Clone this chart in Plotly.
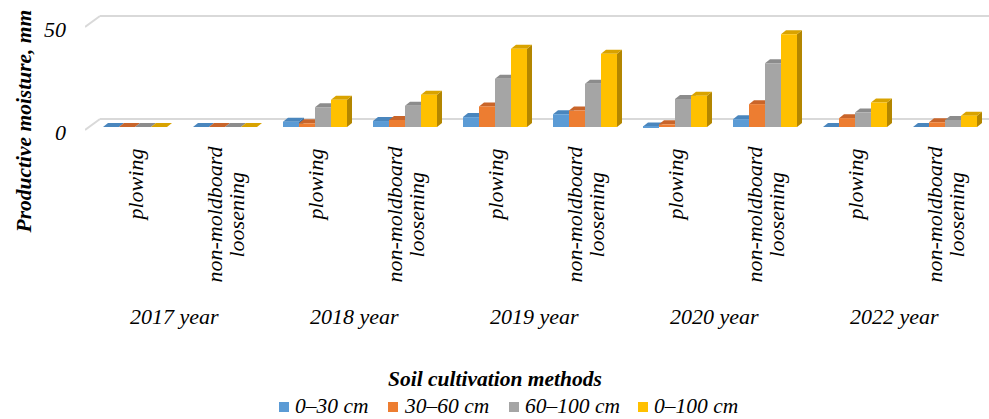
import plotly.graph_objects as go

# ---- data -------------------------------------------------------------
years = ["2017 year", "2018 year", "2019 year", "2020 year", "2022 year"]
methods = ["plowing", "non-moldboard|loosening"]
layers = ["0–30 cm", "30–60 cm", "60–100 cm", "0–100 cm"]

moist_0_30 = [0, 0, 2.6, 2.9, 4.8, 6.2, 0.3, 3.8, 0, 0]
moist_30_60 = [0, 0, 1.8, 3.4, 10.0, 8.0, 1.3, 11.1, 4.3, 2.3]
moist_60_100 = [0, 0, 9.6, 10.3, 23.4, 21.0, 13.6, 30.9, 7.0, 3.4]
moist_0_100 = [0, 0, 13.2, 15.7, 38.0, 35.6, 15.2, 45.0, 11.9, 5.5]

y_ticks = [0, 50]

# ---- styling -------------------------------------------------------------
front_colors = ["#5B9BD5", "#ED7D31", "#A5A5A5", "#FFC000"]
top_colors = ["#4A86BD", "#C9652A", "#8C8C8C", "#D9A300"]
side_colors = ["#3A6F9E", "#AE5520", "#7A7A7A", "#B38600"]
FONT = "Liberation Serif, Times New Roman, serif"
GRID = "#D9D9D9"

W, H = 989, 419
M_L, M_R, M_T, M_B = 85, 0, 10, 284
plot_w = W - M_L - M_R
plot_h = H - M_T - M_B
px_per_cat = 90.0
x_lo = -50 / px_per_cat
x_hi = x_lo + plot_w / px_per_cat
y_lo, y_hi = -3.88, 56.8
px_per_unit = plot_h / (y_hi - y_lo)

cluster = 64 / px_per_cat          # width of one group of four columns
bar_w = cluster / 4
dx = 5 / px_per_cat                # column depth, projected
dy = 4 / px_per_unit

# legend item placement (left edge of each swatch, in pixels)
legend_left = [279, 388, 509, 638]
legend_mid = 407


def paper_y(px):
    return (M_T + plot_h - px) / plot_h


def paper_x(px):
    return (px - M_L) / plot_w


series = [moist_0_30, moist_30_60, moist_60_100, moist_0_100]
cat_x = list(range(len(years) * len(methods)))

fig = go.Figure()
for k, vals in enumerate(series):
    fig.add_trace(go.Bar(
        x=cat_x, y=vals, name=layers[k],
        marker=dict(color=front_colors[k], line=dict(width=0)),
        hoverinfo="name+y", showlegend=False,
    ))

shapes = []
# back wall gridlines with their slanted edge on the left
back_dx = 15 / px_per_cat
back_dy = 8 / px_per_unit
front_dy = -3 / px_per_unit
for t in y_ticks:
    shapes.append(dict(type="line", xref="x", yref="y", layer="below",
                       x0=x_lo + back_dx, x1=x_hi, y0=t + back_dy, y1=t + back_dy,
                       line=dict(color=GRID, width=2)))
    shapes.append(dict(type="line", xref="x", yref="y", layer="below",
                       x0=x_lo, x1=x_lo + back_dx, y0=t + front_dy, y1=t + back_dy,
                       line=dict(color=GRID, width=2)))

# side and top faces of each column
for i in cat_x:
    for k, vals in enumerate(series):
        v = vals[i]
        x0 = i - cluster / 2 + k * bar_w
        x1 = x0 + bar_w
        side = (f"M{x1},0 L{x1 + dx},{dy} L{x1 + dx},{v + dy} L{x1},{v} Z")
        top = (f"M{x0},{v} L{x1},{v} L{x1 + dx},{v + dy} L{x0 + dx},{v + dy} Z")
        shapes.append(dict(type="path", path=side, xref="x", yref="y", layer="below",
                           fillcolor=side_colors[k], line=dict(width=0)))
        shapes.append(dict(type="path", path=top, xref="x", yref="y", layer="below",
                           fillcolor=top_colors[k], line=dict(width=0)))

annotations = []
lab_font = dict(family=FONT, size=22, color="black", style="italic")
leg_font = dict(family=FONT, size=21.5, color="black", style="italic")
bold_font = dict(family=FONT, size=21.5, color="black", style="italic", weight="bold")

# value axis labels, on the front edge of the wall
for t in y_ticks:
    annotations.append(dict(text=str(t), x=paper_x(68), xref="paper", y=t, yref="y",
                            yshift=-5, xanchor="right", yanchor="middle",
                            showarrow=False, font=lab_font))

# category labels, rotated
for i in cat_x:
    m = methods[i % 2]
    lines = m.split("|")
    if len(lines) == 1:
        annotations.append(dict(text=lines[0], x=i, xref="x", y=paper_y(147), yref="paper",
                                textangle=-90, xanchor="center", yanchor="top",
                                showarrow=False, font=lab_font))
    else:
        for j, ln in enumerate(lines):
            annotations.append(dict(text=ln, x=i, xref="x", xshift=-11 + 22 * j,
                                    y=paper_y(214.5), yref="paper",
                                    textangle=-90, xanchor="center", yanchor="middle",
                                    showarrow=False, font=lab_font))

# year labels under each pair
for j, yr in enumerate(years):
    annotations.append(dict(text=yr, x=2 * j + 0.5, xref="x", xshift=-6,
                            y=paper_y(316), yref="paper", xanchor="center", yanchor="middle",
                            showarrow=False, font=lab_font))

annotations.append(dict(text="Soil cultivation methods", x=paper_x(495), xref="paper",
                        y=paper_y(379), yref="paper", xanchor="center", yanchor="middle",
                        showarrow=False, font=bold_font))
annotations.append(dict(text="Productive moisture, mm", x=paper_x(23), xref="paper",
                        y=paper_y(121.5), yref="paper", textangle=-90,
                        xanchor="center", yanchor="middle",
                        showarrow=False, font=bold_font))

# legend: colour swatch + series name
for k, name in enumerate(layers):
    left = legend_left[k]
    shapes.append(dict(type="rect", xref="paper", yref="paper",
                       x0=paper_x(left), x1=paper_x(left + 10),
                       y0=paper_y(legend_mid + 5), y1=paper_y(legend_mid - 5),
                       fillcolor=front_colors[k], line=dict(width=0)))
    annotations.append(dict(text=name, x=paper_x(left + 15), xref="paper",
                            y=paper_y(legend_mid - 1), yref="paper",
                            xanchor="left", yanchor="middle", borderpad=0,
                            showarrow=False, font=leg_font))

fig.update_layout(
    width=W, height=H,
    margin=dict(l=M_L, r=M_R, t=M_T, b=M_B, autoexpand=False),
    paper_bgcolor="white", plot_bgcolor="white",
    barmode="group", bargap=1 - cluster, bargroupgap=0,
    shapes=shapes, annotations=annotations,
    showlegend=False,
    xaxis=dict(range=[x_lo, x_hi], showticklabels=False, showgrid=False,
               zeroline=False, showline=False, fixedrange=True),
    yaxis=dict(range=[y_lo, y_hi], tickvals=y_ticks, showgrid=False, zeroline=False,
               showline=False, ticks="", showticklabels=False, fixedrange=True),
)

fig.write_html("out.html")
